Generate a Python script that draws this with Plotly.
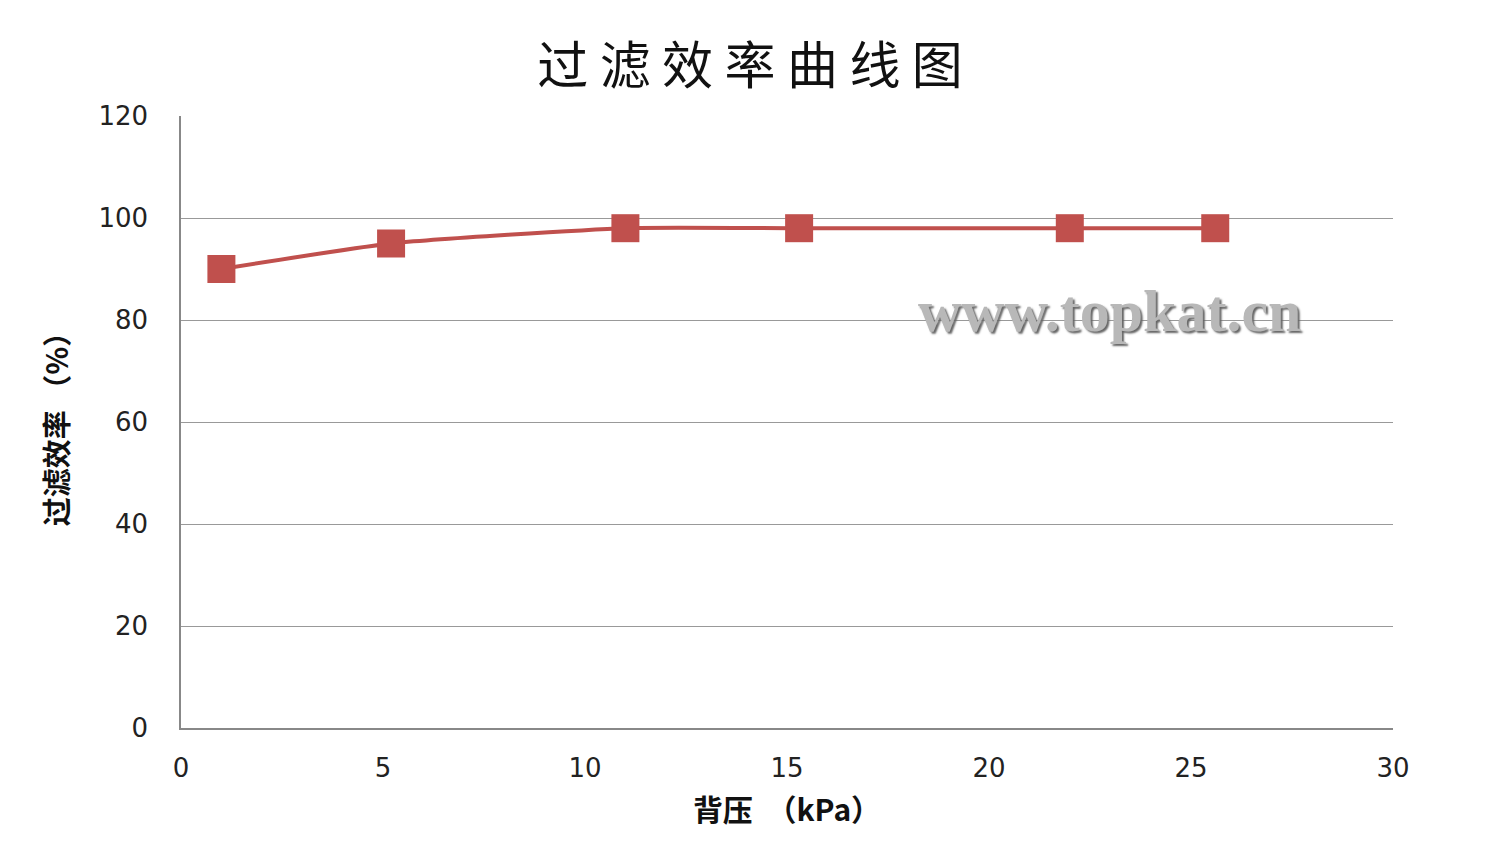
import plotly.graph_objects as go

back_pressure = [1, 5.2, 11, 15.3, 22, 25.6]
efficiency = [90, 95, 98, 98, 98, 98]
x_ticks = [0, 5, 10, 15, 20, 25, 30]
y_ticks = [0, 20, 40, 60, 80, 100, 120]

red = "#c0504d"

fig = go.Figure()
fig.add_trace(go.Scatter(
    x=back_pressure, y=efficiency, mode="lines+markers",
    line=dict(color=red, width=4, shape="spline", smoothing=0.5),
    marker=dict(symbol="square", size=28, color=red),
    showlegend=False,
))

tick_font = dict(family="DejaVu Sans", size=26, color="#222")

fig.update_layout(
    width=1500, height=867,
    margin=dict(l=173, r=115, t=108, b=147),
    paper_bgcolor="white", plot_bgcolor="white",
    title=dict(text="过 滤 效 率 曲 线 图", x=0.4947, xanchor="center", y=0.933, yanchor="middle",
               xref="container", yref="container",
               font=dict(family="Noto Sans CJK SC", size=51, color="#111")),
    xaxis=dict(range=[0, 30], tickvals=x_ticks, showgrid=False, zeroline=False,
               showline=True, linecolor="#888", linewidth=1.5, ticks="",
               ticklabelstandoff=16, tickfont=tick_font,
               title=dict(text="<b>背压  （kPa）</b>", standoff=18,
                          font=dict(family="Noto Sans CJK SC", size=30, color="#111"))),
    yaxis=dict(range=[0, 120], tickvals=y_ticks, showgrid=True, gridcolor="#999", gridwidth=1,
               zeroline=False, showline=True, linecolor="#888", linewidth=1.5, ticks="",
               ticklabelstandoff=26, tickfont=tick_font,
               title=dict(text="<b>过滤效率 （%）</b>", standoff=21,
                          font=dict(family="Noto Sans CJK SC", size=29, color="#111"))),
)

fig.add_annotation(
    text="<b>www.topkat.cn</b>", x=0.766, y=0.681, xref="paper", yref="paper",
    xanchor="center", yanchor="middle", showarrow=False,
    font=dict(family="Liberation Serif", size=60, color="#b8b8b8", shadow="2px 2px 2px #666"),
)

fig.write_html("out.html")
